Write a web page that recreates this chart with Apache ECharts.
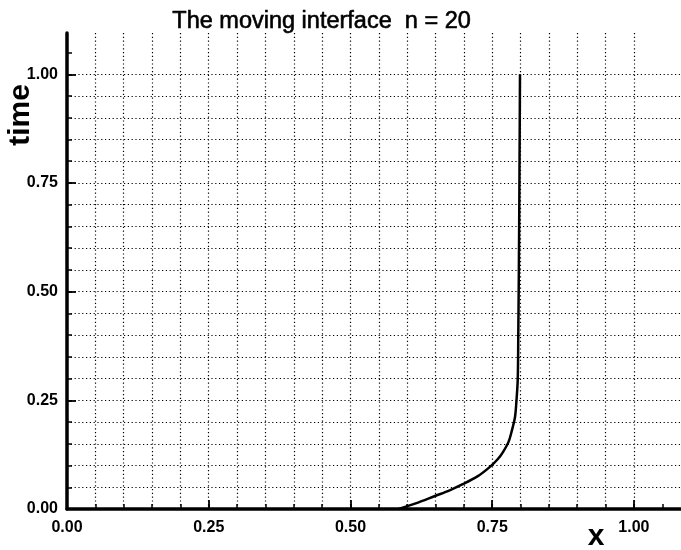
<!DOCTYPE html>
<html>
<head>
<meta charset="utf-8">
<script src="https://cdn.jsdelivr.net/npm/echarts@6/dist/echarts.min.js"></script>
<style>html,body{margin:0;padding:0;background:#fff;}#c{width:681px;height:550px;}</style>
</head>
<body>
<div id="c"></div>
<script>
var titleText = 'The moving interface  n = 20';
var xName = 'x';
var yName = 'time';
var majorTicks = [0, 0.25, 0.5, 0.75, 1.0];
var minorTicks = [0,0.05,0.1,0.15,0.2,0.25,0.3,0.35,0.4,0.45,0.5,0.55,0.6,0.65,0.7,0.75,0.8,0.85,0.9,0.95,1.0,1.05];
// interface position x vs time
var interfaceX = [0.585,0.615,0.649,0.675,0.698,0.724,0.746,0.760,0.769,0.779,0.785,0.790,0.792,0.795,0.796,0.797,0.798,0.799];
var interfaceT = [0.000,0.013,0.030,0.043,0.057,0.075,0.097,0.115,0.131,0.155,0.182,0.210,0.235,0.297,0.400,0.550,0.750,1.000];

var data = interfaceX.map(function(x, i){ return [x, interfaceT[i]]; });
var fmt = function(v){ return v.toFixed(2); };
var FONT = '"Liberation Sans", Arial, sans-serif';
var gridLine = { show: true, showMinLine: false, showMaxLine: false, lineStyle: { color: '#000', width: 1.2, type: [1.2, 2.6] } };

var chart = echarts.init(document.getElementById('c'), null, { renderer: 'canvas' });
chart.setOption({
  animation: false,
  backgroundColor: '#fff',
  grid: { left: 67, right: 0, top: 33, bottom: 41, containLabel: false },
  xAxis: [
    { type: 'value', min: 0, max: 1.083, interval: 0.05, position: 'bottom',
      axisLine: { show: true, onZero: false, lineStyle: { color: '#000', width: 3.5 } },
      axisTick: { show: true, inside: true, length: 5, customValues: minorTicks, lineStyle: { color: '#000', width: 1.5 } },
      axisLabel: { show: false }, splitLine: gridLine },
    { type: 'value', min: 0, max: 1.083, position: 'bottom',
      axisLine: { show: false, onZero: false },
      axisTick: { show: true, inside: true, length: 9, customValues: majorTicks, lineStyle: { color: '#000', width: 1.8 } },
      axisLabel: { show: true, customValues: majorTicks, formatter: fmt, margin: 11, color: '#000', fontFamily: FONT, fontSize: 16, fontWeight: 'bold' },
      splitLine: { show: false } }
  ],
  yAxis: [
    { type: 'value', min: 0, max: 1.095, interval: 0.05, position: 'left',
      axisLine: { show: true, onZero: false, lineStyle: { color: '#000', width: 3.5 } },
      axisTick: { show: true, inside: true, length: 5, customValues: minorTicks, lineStyle: { color: '#000', width: 1.5 } },
      axisLabel: { show: false }, splitLine: gridLine },
    { type: 'value', min: 0, max: 1.095, position: 'left',
      axisLine: { show: false, onZero: false },
      axisTick: { show: true, inside: true, length: 9, customValues: majorTicks, lineStyle: { color: '#000', width: 1.8 } },
      axisLabel: { show: true, customValues: majorTicks, formatter: fmt, margin: 9, color: '#000', fontFamily: FONT, fontSize: 16, fontWeight: 'bold' },
      splitLine: { show: false } }
  ],
  graphic: [
    { type: 'text', left: 172, top: 9, style: { text: titleText, fill: '#000', stroke: '#000', lineWidth: 0.6, font: '23.5px ' + FONT } },
    { type: 'text', x: 21, y: 115, rotation: Math.PI / 2, style: { text: yName, fill: '#000', font: 'bold 30px ' + FONT, textAlign: 'center', textVerticalAlign: 'middle' } },
    { type: 'text', x: 596, y: 537, style: { text: xName, fill: '#000', font: 'bold 30px ' + FONT, textAlign: 'center', textVerticalAlign: 'middle' } }
  ],
  series: [{
    type: 'line', xAxisIndex: 0, yAxisIndex: 0, data: data,
    showSymbol: false, symbol: 'none', smooth: 0.3,
    lineStyle: { color: '#000', width: 2.5 }, z: 5
  }]
});
</script>
</body>
</html>
